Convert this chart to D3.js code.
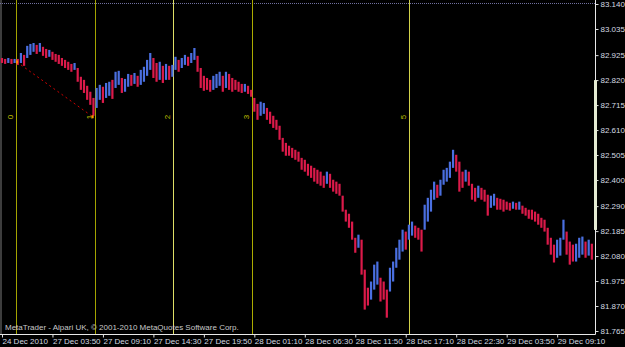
<!DOCTYPE html>
<html>
<head>
<meta charset="utf-8">
<script src="https://cdn.jsdelivr.net/npm/d3@7"></script>
<style>
  body { margin: 0; background: #000; }
  svg { display: block; font-family: "Liberation Sans", Arial, sans-serif; }
</style>
</head>
<body>
<script>
// 20-minute bars (high / low)
const barStep = 20; // minutes per bar
const highs = [82.913,82.909,82.913,82.909,82.909,82.909,82.934,82.926,82.964,82.972,
  82.976,82.968,82.976,82.960,82.951,82.947,82.939,82.930,82.926,82.913,
  82.905,82.897,82.888,82.892,82.871,82.834,82.821,82.796,82.771,82.745,
  82.787,82.800,82.792,82.808,82.813,82.821,82.855,82.859,82.829,82.825,
  82.846,82.842,82.850,82.838,82.863,82.876,82.905,82.934,82.913,82.892,
  82.897,82.880,82.888,82.880,82.884,82.918,82.905,82.913,82.926,82.918,
  82.934,82.955,82.922,82.871,82.838,82.829,82.821,82.838,82.846,82.855,
  82.838,82.855,82.846,82.829,82.821,82.813,82.804,82.804,82.796,82.779,
  82.745,82.720,82.729,82.724,82.703,82.687,82.670,82.653,82.628,82.577,
  82.556,82.544,82.535,82.527,82.519,82.493,82.485,82.468,82.460,82.451,
  82.443,82.435,82.418,82.435,82.426,82.401,82.393,82.384,82.334,82.275,
  82.258,82.225,82.157,82.170,82.149,82.023,81.947,81.973,82.044,82.057,
  81.989,81.973,81.939,82.031,82.057,82.115,82.149,82.191,82.183,82.212,
  82.225,82.208,82.199,82.191,82.296,82.325,82.359,82.393,82.380,82.401,
  82.443,82.451,82.477,82.527,82.506,82.477,82.435,82.443,82.435,82.384,
  82.367,82.376,82.367,82.359,82.338,82.334,82.342,82.325,82.321,82.317,
  82.309,82.304,82.309,82.304,82.309,82.292,82.283,82.275,82.275,82.267,
  82.258,82.241,82.233,82.199,82.157,82.128,82.149,82.157,82.233,82.183,
  82.141,82.128,82.132,82.157,82.162,82.141,82.149,82.132];
const lows = [82.892,82.888,82.892,82.888,82.892,82.884,82.892,82.880,82.913,82.926,
  82.939,82.930,82.939,82.922,82.913,82.918,82.905,82.897,82.888,82.880,
  82.871,82.863,82.855,82.863,82.813,82.779,82.766,82.737,82.716,82.670,
  82.703,82.737,82.724,82.745,82.754,82.741,82.787,82.800,82.766,82.771,
  82.792,82.796,82.804,82.792,82.800,82.813,82.838,82.863,82.829,82.813,
  82.821,82.808,82.821,82.821,82.834,82.863,82.855,82.871,82.884,82.880,
  82.892,82.905,82.855,82.787,82.775,82.779,82.771,82.779,82.787,82.796,
  82.771,82.787,82.779,82.771,82.779,82.771,82.766,82.771,82.762,82.750,
  82.687,82.653,82.670,82.678,82.653,82.636,82.619,82.611,82.569,82.519,
  82.502,82.502,82.493,82.485,82.477,82.443,82.435,82.418,82.409,82.393,
  82.384,82.376,82.367,82.384,82.367,82.351,82.342,82.334,82.267,82.225,
  82.199,82.149,82.094,82.115,82.002,81.855,81.872,81.897,81.939,81.960,
  81.889,81.897,81.821,81.931,81.973,82.031,82.065,82.099,82.107,82.149,
  82.166,82.157,82.149,82.099,82.191,82.225,82.267,82.317,82.325,82.334,
  82.380,82.393,82.409,82.451,82.435,82.351,82.367,82.393,82.376,82.317,
  82.309,82.325,82.317,82.309,82.250,82.283,82.292,82.275,82.275,82.267,
  82.275,82.271,82.279,82.275,82.275,82.258,82.250,82.237,82.233,82.225,
  82.212,82.199,82.183,82.128,82.086,82.053,82.073,82.082,82.149,82.086,
  82.044,82.057,82.057,82.073,82.086,82.073,82.082,82.065];

const priceTicks = [83.140,83.035,82.925,82.820,82.715,82.610,82.505,82.400,82.290,82.185,82.080,81.975,81.870,81.765];
const timeTicks = [0,320,640,960,1280,1600,1920,2240,2560,2880,3200,3520]; // minutes from chart start
const timeLabels = ["24 Dec 2010","27 Dec 03:50","27 Dec 09:10","27 Dec 14:30","27 Dec 19:50","28 Dec 01:10",
  "28 Dec 06:30","28 Dec 11:50","28 Dec 17:10","28 Dec 22:30","29 Dec 03:50","29 Dec 09:10"];

// time zone lines
const zoneTimes = [90, 588, 1086, 1584, 2580];
const zoneLabels = ["0","1","2","3","5"];
const zoneColors = ["#a3a300","#a3a300","#dede66","#acac00","#d2d24a"];

// trend line
const trendTimes = [95, 575];
const trendPrices = [82.896, 82.666];

const W = 625, H = 347;
const plotRight = 595, plotBottom = 334;

const svg = d3.select('body').append('svg')
  .attr('width', W).attr('height', H);

svg.append('rect').attr('width', W).attr('height', H).attr('fill', '#000');

const x = d3.scaleLinear().domain([0, 3760]).range([2, plotRight]);
const y = d3.scaleLinear().domain([81.765, 83.140]).range([331, 4]);

// left border
svg.append('line')
  .attr('x1', 1).attr('x2', 1).attr('y1', 0).attr('y2', plotBottom)
  .attr('stroke', '#7a7a7a').attr('stroke-width', 1);

// dotted top line
svg.append('line')
  .attr('x1', 0).attr('x2', plotRight).attr('y1', y(83.140) - 0.5).attr('y2', y(83.140) - 0.5)
  .attr('stroke', '#7070a0').attr('stroke-dasharray', '1,1');

// zone lines
const zones = zoneTimes.map((t, i) => ({ t: t, label: zoneLabels[i], color: zoneColors[i] }));
svg.selectAll('line.zone').data(zones).enter().append('line')
  .attr('class', 'zone')
  .attr('x1', d => Math.round(x(d.t)) + 0.5).attr('x2', d => Math.round(x(d.t)) + 0.5)
  .attr('y1', 0).attr('y2', plotBottom)
  .attr('stroke', d => d.color).attr('stroke-width', 1);

svg.selectAll('text.zone').data(zones).enter().append('text')
  .attr('class', 'zone')
  .attr('transform', d => `translate(${Math.round(x(d.t)) - 3}, ${y(82.665)}) rotate(-90)`)
  .attr('text-anchor', 'middle')
  .attr('font-size', 8)
  .attr('fill', '#c0c000')
  .text(d => d.label);

// bars: blue when the bar moves up against the previous one, red otherwise
const bars = highs.map((h, i) => {
  const mid = (h + lows[i]) / 2;
  const prev = i > 0 ? (highs[i - 1] + lows[i - 1]) / 2 : mid;
  return { t: i * barStep, high: h, low: lows[i], up: mid > prev };
});

svg.selectAll('rect.bar').data(bars).enter().append('rect')
  .attr('class', 'bar')
  .attr('x', d => x(d.t) - 1.1)
  .attr('width', 2.2)
  .attr('y', d => y(d.high))
  .attr('height', d => Math.max(1, y(d.low) - y(d.high)))
  .attr('fill', d => d.up ? '#4a6fe0' : '#dc1a4a');

// trend line
svg.append('line')
  .attr('x1', x(trendTimes[0])).attr('y1', y(trendPrices[0]))
  .attr('x2', x(trendTimes[1])).attr('y2', y(trendPrices[1]))
  .attr('stroke', '#d00000').attr('stroke-width', 1)
  .attr('stroke-dasharray', '2,3');

svg.selectAll('rect.endpt').data(trendTimes).enter().append('rect')
  .attr('class', 'endpt')
  .attr('x', d => x(d) - 1).attr('width', 2)
  .attr('y', (d, i) => y(trendPrices[i]) - 1.5).attr('height', 3)
  .attr('fill', '#ff8c00');

// right axis
const yAxis = svg.append('g')
  .attr('transform', `translate(${plotRight + 0.5}, 0)`)
  .call(d3.axisRight(y).tickValues(priceTicks).tickFormat(d3.format('.3f')).tickSize(3).tickSizeOuter(0));
yAxis.select('.domain').remove();
yAxis.selectAll('.tick line').attr('stroke', '#e0e0e0');
yAxis.selectAll('.tick text')
  .attr('x', 5).attr('fill', '#d4dae0').attr('font-size', 8)
  .attr('font-family', '"Liberation Sans", Arial, sans-serif');

svg.append('line')
  .attr('x1', plotRight + 0.5).attr('x2', plotRight + 0.5).attr('y1', 0).attr('y2', plotBottom + 0.5)
  .attr('stroke', '#e8e8e8');

// highlighted strip on price scale
svg.append('rect')
  .attr('x', plotRight - 1).attr('width', 3)
  .attr('y', y(82.820)).attr('height', y(82.190) - y(82.820))
  .attr('fill', '#e6ecd4');

// bottom axis
svg.append('line')
  .attr('x1', 0).attr('x2', plotRight + 0.5).attr('y1', plotBottom + 0.5).attr('y2', plotBottom + 0.5)
  .attr('stroke', '#e8e8e8');

const xAxis = svg.append('g')
  .attr('transform', `translate(0, ${plotBottom + 0.5})`)
  .call(d3.axisBottom(x).tickValues(timeTicks).tickFormat((d, i) => timeLabels[i]).tickSize(3).tickSizeOuter(0));
xAxis.select('.domain').remove();
xAxis.selectAll('.tick line').attr('stroke', '#e0e0e0');
xAxis.selectAll('.tick text')
  .attr('text-anchor', 'start').attr('x', 0).attr('y', 4).attr('dy', '0.71em')
  .attr('fill', '#d4dae0').attr('font-size', 8)
  .attr('font-family', '"Liberation Sans", Arial, sans-serif');

// copyright
svg.append('text')
  .attr('x', 5).attr('y', 330)
  .attr('font-size', 8)
  .attr('fill', '#c8c8c8')
  .text('MetaTrader - Alpari UK, \u00a9 2001-2010 MetaQuotes Software Corp.');
</script>
</body>
</html>
